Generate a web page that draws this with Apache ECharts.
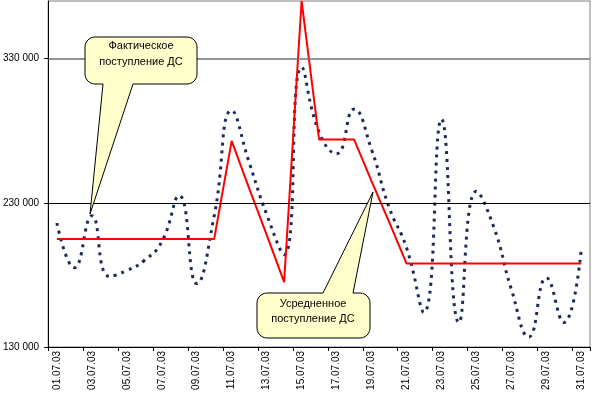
<!DOCTYPE html>
<html>
<head>
<meta charset="utf-8">
<script src="https://cdn.jsdelivr.net/npm/echarts@6/dist/echarts.min.js"></script>
<style>
html,body{margin:0;padding:0;background:#fff;}
#chart{width:600px;height:395px;}
</style>
</head>
<body>
<div id="chart"></div>
<script>
var categories = ["01.07.03","02.07.03","03.07.03","04.07.03","05.07.03","06.07.03","07.07.03","08.07.03","09.07.03","10.07.03",
  "11.07.03","12.07.03","13.07.03","14.07.03","15.07.03","16.07.03","17.07.03","18.07.03","19.07.03","20.07.03",
  "21.07.03","22.07.03","23.07.03","24.07.03","25.07.03","26.07.03","27.07.03","28.07.03","29.07.03","30.07.03","31.07.03"];

var actualValues = [216000,185000,221000,179000,183000,190000,203000,235000,174000,221000,
  294000,258000,222000,194000,324000,279000,264000,295000,267000,227000,
  199000,154000,288000,147000,238000,213000,170000,137000,178000,147000,198000];

var averageValues = [205000,205000,205000,205000,205000,205000,205000,205000,205000,205000,
  273000,240000,208000,175000,370000,274000,274000,274000,245000,217000,
  188000,188000,188000,188000,188000,188000,188000,188000,188000,188000,188000];

var yTicks = [130000,230000,330000];
var gridLines = [230000,330000];
var yMin = 130000, yMax = 370000;

var callout1Text = "Фактическое\nпоступление ДС";
var callout2Text = "Усредненное\nпоступление ДС";

var FONT = "Liberation Sans, Arial, sans-serif";

function fmt(v){ return String(v).replace(/\B(?=(\d{3})+(?!\d))/g,' '); }

// rounded-rect callout outline as polygon points
function calloutPoints(x0,y0,x1,y1,r,side,b0,b1,tip){
  var pts=[];
  function arc(cx,cy,a0,a1){
    for(var i=0;i<=6;i++){var a=a0+(a1-a0)*i/6;pts.push([cx+r*Math.cos(a),cy+r*Math.sin(a)]);}
  }
  var P=Math.PI;
  arc(x0+r,y0+r,P,1.5*P);
  if(side==='top'){pts.push([b0,y0]);pts.push(tip);pts.push([b1,y0]);}
  arc(x1-r,y0+r,1.5*P,2*P);
  arc(x1-r,y1-r,0,0.5*P);
  if(side==='bottom'){pts.push([b1,y1]);pts.push(tip);pts.push([b0,y1]);}
  arc(x0+r,y1-r,0.5*P,P);
  return pts;
}

var chart = echarts.init(document.getElementById('chart'), null, {renderer:'canvas'});
chart.setOption({
  animation:false,
  backgroundColor:'#ffffff',
  grid:{left:45,right:10,top:1,bottom:48,show:true,borderColor:'#808080',borderWidth:1,backgroundColor:'#ffffff'},
  xAxis:{
    type:'category',data:categories,boundaryGap:true,
    axisLine:{lineStyle:{color:'#000',width:1}},
    axisTick:{show:true,interval:1,length:4,lineStyle:{color:'#000'}},
    axisLabel:{interval:1,rotate:90,margin:4,fontSize:10,color:'#000',fontFamily:FONT},
    splitLine:{show:false}
  },
  yAxis:{
    type:'value',min:yMin,max:yMax,
    axisLine:{show:true,lineStyle:{color:'#000',width:1}},
    axisTick:{show:true,length:4,inside:false,customValues:yTicks,lineStyle:{color:'#000'}},
    axisLabel:{customValues:yTicks,fontSize:10,color:'#000',fontFamily:FONT,margin:9,formatter:function(v){return fmt(v);}},
    splitLine:{show:false}
  },
  series:[
    {
      type:'line',data:actualValues,smooth:0.5,symbol:'none',
      lineStyle:{color:'#1B2A58',width:3,type:[3,5],cap:'butt'},
      markLine:{
        silent:true,symbol:'none',animation:false,
        label:{show:false},
        data:[
          {yAxis:gridLines[0],lineStyle:{color:'#000',width:1,type:'solid'}},
          {yAxis:gridLines[1],lineStyle:{color:'#707070',width:1.5,type:'solid'}}
        ]
      },
      z:2
    },
    {
      type:'line',data:averageValues,smooth:false,symbol:'none',
      lineStyle:{color:'#FF0000',width:2},
      z:3
    }
  ],
  graphic:[
    {
      type:'polygon',z:100,
      shape:{points:calloutPoints(85,37,197,84,10,'bottom',103,133,[90,214])},
      style:{fill:'#FFFFCC',stroke:'#000',lineWidth:1}
    },
    {
      type:'text',z:101,x:141,y:54,
      style:{text:callout1Text,fill:'#000',font:'11px '+FONT,align:'center',verticalAlign:'middle',lineHeight:16}
    },
    {
      type:'polygon',z:100,
      shape:{points:calloutPoints(257,293,370,338,10,'top',323,353,[373,192])},
      style:{fill:'#FFFFCC',stroke:'#000',lineWidth:1}
    },
    {
      type:'text',z:101,x:313,y:311,
      style:{text:callout2Text,fill:'#000',font:'11px '+FONT,align:'center',verticalAlign:'middle',lineHeight:15}
    }
  ]
});
</script>
</body>
</html>
